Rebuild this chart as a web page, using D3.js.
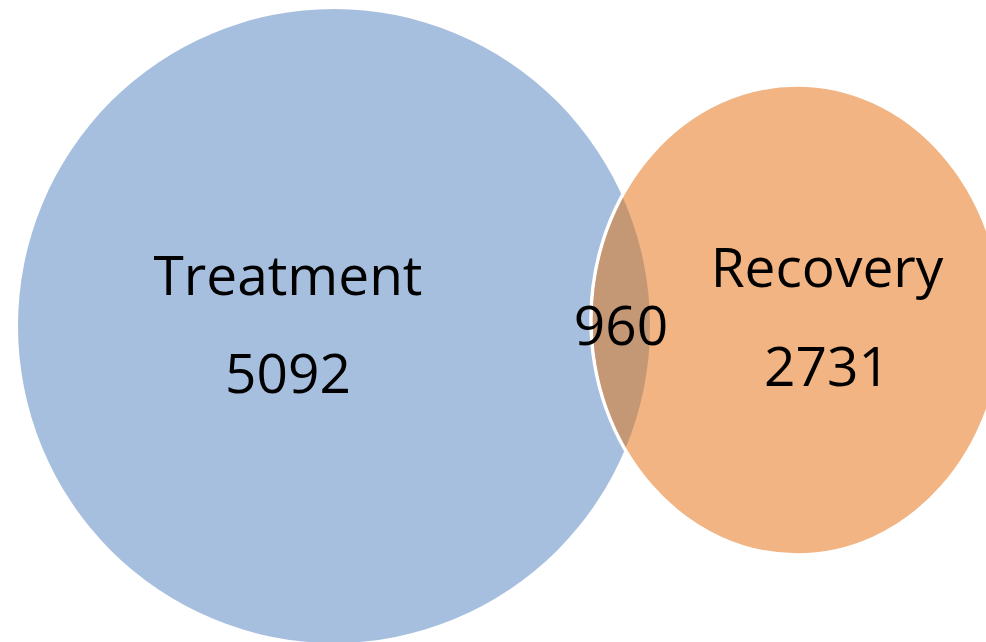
<!DOCTYPE html>
<head>
  <meta charset="utf-8">
  <script src="https://cdn.jsdelivr.net/npm/d3@7"></script>
  <style>
    body { margin: 0; background: white; }
    text { font-family: "Open Sans", sans-serif; fill: black; }
  </style>
</head>
<body>
  <div id="chart"></div>
  <script>

  // data
  var setNames = ["Treatment", "Recovery"];
  var setOnly = [5092, 2731];
  var overlapCount = 960;

  var width = 986;
  var height = 642;

  // layout of the two shapes (pixels)
  var shapes = [
    { cx: 334, cy: 326, rx: 316, ry: 317, fill: "#a7bfde" },
    { cx: 797, cy: 320, rx: 206, ry: 235, fill: "#f1b482" }
  ];
  var labelPos = [
    { x: 288, y1: 295, y2: 393 },
    { x: 827, y1: 287, y2: 386 }
  ];

  var svg = d3.select("#chart").append("svg")
    .attr("width", width)
    .attr("height", height);

  var defs = svg.append("defs");
  defs.append("clipPath")
    .attr("id", "clipBlue")
    .append("ellipse")
    .attr("cx", shapes[0].cx)
    .attr("cy", shapes[0].cy)
    .attr("rx", shapes[0].rx)
    .attr("ry", shapes[0].ry);

  // blue set
  svg.append("ellipse")
    .attr("cx", shapes[0].cx)
    .attr("cy", shapes[0].cy)
    .attr("rx", shapes[0].rx)
    .attr("ry", shapes[0].ry)
    .style("fill", shapes[0].fill);

  // orange set, white outline
  svg.append("ellipse")
    .attr("cx", shapes[1].cx)
    .attr("cy", shapes[1].cy)
    .attr("rx", shapes[1].rx)
    .attr("ry", shapes[1].ry)
    .style("fill", shapes[1].fill)
    .style("stroke", "white")
    .style("stroke-width", 3.5);

  // overlap lens
  svg.append("ellipse")
    .attr("clip-path", "url(#clipBlue)")
    .attr("cx", shapes[1].cx)
    .attr("cy", shapes[1].cy)
    .attr("rx", shapes[1].rx - 1.75)
    .attr("ry", shapes[1].ry - 1.75)
    .style("fill", "#c49775");

  var labels = svg.append("g");
  setNames.forEach(function(name, i) {
    labels.append("text")
      .attr("x", labelPos[i].x)
      .attr("y", labelPos[i].y1)
      .attr("text-anchor", "middle")
      .style("font-size", "55px")
      .text(name);
    labels.append("text")
      .attr("x", labelPos[i].x)
      .attr("y", labelPos[i].y2)
      .attr("text-anchor", "middle")
      .style("font-size", "55px")
      .text(setOnly[i]);
  });

  labels.append("text")
    .attr("x", 621)
    .attr("y", 345)
    .attr("text-anchor", "middle")
    .style("font-size", "55px")
    .text(overlapCount);

  </script>
</body>
